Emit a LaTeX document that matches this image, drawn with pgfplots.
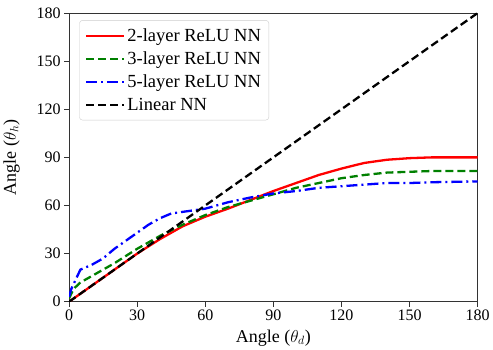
\documentclass[border=0pt]{standalone}
\usepackage{fontspec}
\setmainfont{Liberation Serif}
\usepackage{pgfplots}
\pgfplotsset{compat=1.18}
\begin{document}
\begin{tikzpicture}
\begin{axis}[
  width=409pt, height=289pt, scale only axis,
  xmin=0, xmax=180, ymin=0, ymax=180,
  xtick={0,30,...,180}, ytick={0,30,...,180},
  tick align=outside, xtick pos=left, ytick pos=left,
  major tick length=5pt,
  tick style={black!80, line width=0.8pt},
  /pgf/number format/assume math mode=true,
  tick label style={font=\fontsize{16}{18}\selectfont},
  label style={font=\fontsize{18}{20}\selectfont},
  xlabel={Angle ($\theta_d$)}, ylabel={Angle ($\theta_h$)},
  xlabel style={yshift=-2pt}, ylabel style={yshift=10pt},
  axis line style={line width=0.8pt, black!80},
  legend style={at={(0.025,0.975)}, anchor=north west, font=\fontsize{18.5}{20}\selectfont,
    draw=black!20, rounded corners=3pt, row sep=5pt, inner sep=6pt},
  legend cell align=left,
  legend image code/.code={\draw[#1, line width=2pt] (0pt,0pt) -- (38pt,0pt);},
]
\addplot[red, line width=2.3pt] coordinates {(0,0)(10,10)(20,20)(30,30)(40,39)(50,47)(60,53)(70,58)(80,63.5)(90,69)(100,74)(110,79)(120,83)(130,86.5)(140,88.5)(150,89.5)(160,90)(180,90)};
\addlegendentry{2-layer ReLU NN}
\addplot[green!50!black, line width=2.3pt, dash pattern=on 8pt off 4pt] coordinates {(0,2)(2,8)(5,12)(10,16)(20,24)(30,33)(40,41)(50,48)(60,54)(70,59)(80,63)(90,67)(100,71)(110,74)(120,77)(130,79)(140,80.5)(150,81)(160,81.5)(180,81.5)};
\addlegendentry{3-layer ReLU NN}
\addplot[blue, line width=2.3pt, dash pattern=on 11pt off 4pt on 2pt off 4pt] coordinates {(0,3)(1,8)(3,14)(5,20)(10,23)(15,27)(20,33)(25,38)(30,43)(35,48)(40,52)(45,55)(50,56)(55,57)(60,58)(70,62)(80,65)(90,67.5)(100,69)(110,71)(120,72)(130,73)(140,74)(150,74)(160,74.5)(180,75)};
\addlegendentry{5-layer ReLU NN}
\addplot[black, line width=2.3pt, dash pattern=on 8pt off 4pt] coordinates {(0,0)(180,180)};
\addlegendentry{Linear NN}
\end{axis}
\path (current axis.north west) ++(0,13pt);
\end{tikzpicture}
\end{document}
